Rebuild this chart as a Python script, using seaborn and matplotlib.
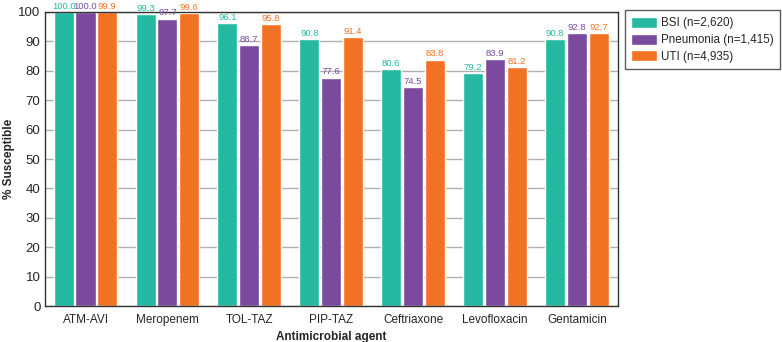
import pandas as pd
import numpy as np
import matplotlib
matplotlib.use("Agg")
import matplotlib.pyplot as plt
import seaborn as sns

# data
agents = ["ATM-AVI", "Meropenem", "TOL-TAZ", "PIP-TAZ", "Ceftriaxone", "Levofloxacin", "Gentamicin"]
series = ["BSI (n=2,620)", "Pneumonia (n=1,415)", "UTI (n=4,935)"]
bsi = [100.0, 99.3, 96.1, 90.8, 80.6, 79.2, 90.8]
pneumonia = [100.0, 97.7, 88.7, 77.6, 74.5, 83.9, 92.8]
uti = [99.9, 99.6, 95.8, 91.4, 83.8, 81.2, 92.7]
colors = ["#25B9A1", "#7B4A9E", "#F27223"]

df = pd.DataFrame({
    "agent": agents * 3,
    "group": [series[0]] * 7 + [series[1]] * 7 + [series[2]] * 7,
    "value": bsi + pneumonia + uti,
})

sns.set_style("white")
plt.rcParams["font.family"] = ["Liberation Sans", "DejaVu Sans"]

fig = plt.figure(figsize=(7.82, 3.42), dpi=100)
ax = fig.add_axes([0.057, 0.105, 0.733, 0.86])

sns.barplot(data=df, x="agent", y="value", hue="group", order=agents,
            hue_order=series, palette=colors, width=0.8, gap=0.08,
            saturation=1, errorbar=None, ax=ax)

# value labels above bars, coloured like the bars
for cont, col in zip(ax.containers, colors):
    ax.bar_label(cont, fmt="%.1f", color=col, fontsize=6.8, padding=1, clip_on=False)

ax.set_ylim(0, 100)
ax.set_xlim(-0.5, len(agents) - 0.5)
ax.set_yticks(range(0, 101, 10))
ax.yaxis.grid(True, color="#b0b0b0", linewidth=1)
ax.set_axisbelow(True)
ax.tick_params(axis="y", labelsize=9.5, length=0, pad=3)
ax.tick_params(axis="x", which="major", labelsize=8.5, length=0, pad=6)
ax.set_xticks(np.arange(0.5, len(agents) - 1, 1), minor=True)
ax.tick_params(axis="x", which="minor", length=5, width=0.8, direction="in", color="#333333")
for s in ax.spines.values():
    s.set_color("#333333")
    s.set_linewidth(1)

ax.set_xlabel("Antimicrobial agent", fontsize=8.5, fontweight="bold", labelpad=3)
ax.set_ylabel("% Susceptible", fontsize=8.5, fontweight="bold", labelpad=2)

leg = ax.legend(loc="upper left", bbox_to_anchor=(1.012, 1.005), borderaxespad=0,
                frameon=True, fontsize=8.4,
                handlelength=2.2, handleheight=1.1, borderpad=0.55,
                labelspacing=0.35, handletextpad=0.4, fancybox=False, title=None)
leg.get_frame().set_edgecolor("#333333")
leg.get_frame().set_linewidth(1)

fig.savefig("out.png", dpi=100)
